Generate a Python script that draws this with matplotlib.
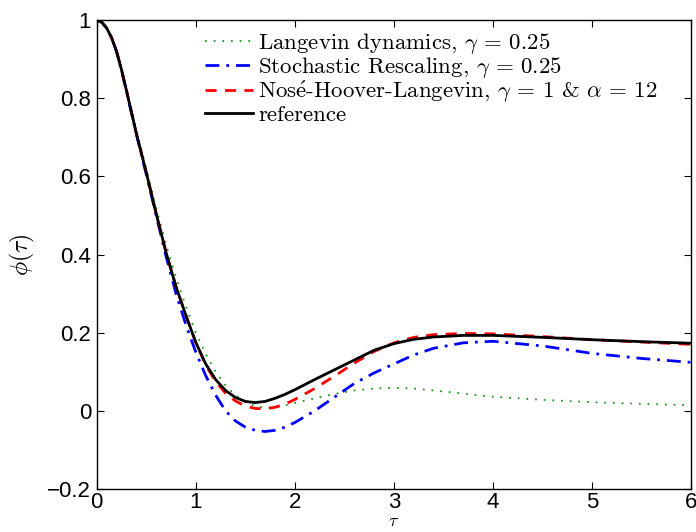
import matplotlib
matplotlib.use("Agg")
import matplotlib.pyplot as plt

# === Data ===
tau = [0, 0.05, 0.1, 0.15, 0.2, 0.25, 0.3, 0.4, 0.5, 0.6, 0.7, 0.8, 0.9, 1.0,
       1.1, 1.2, 1.3, 1.4, 1.5, 1.6, 1.7, 1.8, 1.9, 2.0, 2.2, 2.4, 2.6, 2.8,
       3.0, 3.2, 3.4, 3.7, 4.0, 4.5, 5.0, 5.5, 6.0]

phi_langevin = [1, 0.995, 0.98, 0.956, 0.922, 0.876, 0.825, 0.72, 0.62, 0.52,
                0.425, 0.342, 0.268, 0.2, 0.145, 0.10, 0.065, 0.04, 0.022,
                0.012, 0.008, 0.009, 0.014, 0.02, 0.032, 0.043, 0.052, 0.057,
                0.059, 0.057, 0.052, 0.044, 0.036, 0.028, 0.022, 0.018, 0.014]

phi_rescaling = [1, 0.995, 0.98, 0.955, 0.92, 0.872, 0.818, 0.708, 0.605,
                 0.50, 0.395, 0.30, 0.22, 0.15, 0.09, 0.04, 0.0, -0.026,
                 -0.042, -0.05, -0.053, -0.05, -0.042, -0.03, 0.0, 0.035, 0.07,
                 0.097, 0.12, 0.143, 0.16, 0.174, 0.178, 0.166, 0.147, 0.134,
                 0.124]

phi_nhl = [1, 0.995, 0.98, 0.955, 0.92, 0.873, 0.82, 0.71, 0.61, 0.505, 0.405,
           0.318, 0.244, 0.175, 0.117, 0.075, 0.045, 0.025, 0.012, 0.006,
           0.005, 0.009, 0.017, 0.029, 0.057, 0.089, 0.122, 0.152, 0.174,
           0.188, 0.195, 0.198, 0.197, 0.19, 0.182, 0.176, 0.17]

phi_reference = [1, 0.995, 0.98, 0.955, 0.92, 0.873, 0.82, 0.71, 0.61, 0.505,
                 0.405, 0.318, 0.244, 0.175, 0.12, 0.08, 0.052, 0.034, 0.024,
                 0.021, 0.024, 0.032, 0.042, 0.054, 0.08, 0.105, 0.13, 0.155,
                 0.172, 0.183, 0.189, 0.193, 0.193, 0.188, 0.182, 0.177, 0.173]

labels = [r"Langevin dynamics, $\gamma\,=\,0.25$",
          r"Stochastic Rescaling, $\gamma\,=\,0.25$",
          r"Nos$\acute{\mathrm{e}}$-Hoover-Langevin, $\gamma\,=\,1$ & $\alpha\,=\,12$",
          "reference"]

plt.rcParams["mathtext.fontset"] = "cm"
plt.rcParams["font.family"] = "Liberation Sans"

fig = plt.figure(figsize=(6.96, 5.32), dpi=100)
ax = fig.add_axes([0.139, 0.081, 0.854, 0.881])

ax.plot(tau, phi_langevin, color=(0.1, 0.6, 0.1), linestyle=(0, (1, 3.8)),
        linewidth=1.3, label=labels[0])
ax.plot(tau, phi_rescaling, color="blue", linestyle=(0, (5, 2.5, 1, 2.5)),
        linewidth=2.0, label=labels[1])
ax.plot(tau, phi_nhl, color="red", linestyle=(0, (4, 3)),
        linewidth=2.0, label=labels[2])
ax.plot(tau, phi_reference, color="black", linewidth=2.0, label=labels[3])

ax.set_xlim(0, 6)
ax.set_ylim(-0.2, 1)
ax.set_xticks([0, 1, 2, 3, 4, 5, 6])
ax.set_yticks([-0.2, 0, 0.2, 0.4, 0.6, 0.8, 1])
ax.set_yticklabels(["\u22120.2", "0", "0.2", "0.4", "0.6", "0.8", "1"])
ax.tick_params(direction="in", length=5, labelsize=16, top=True, right=True,
               pad=4)
ax.tick_params(axis="x", pad=2.5)
for s in ax.spines.values():
    s.set_linewidth(1.0)

# tau sits just under the tick labels, as low as the canvas allows
ax.set_xlabel(r"$\tau$", fontsize=13)
ax.xaxis.set_label_coords(0.5, -0.052)
ax.set_ylabel(r"$\phi(\tau)$", fontsize=17)
ax.yaxis.set_label_coords(-0.10, 0.5)

ax.legend(loc="upper left", bbox_to_anchor=(0.166, 0.997), frameon=False,
          prop={"family": ["cmr10", "DejaVu Serif"], "size": 16.5},
          handlelength=2.1, handletextpad=0.25, labelspacing=-0.03,
          borderaxespad=0.0)

fig.savefig("out.png", dpi=100)
